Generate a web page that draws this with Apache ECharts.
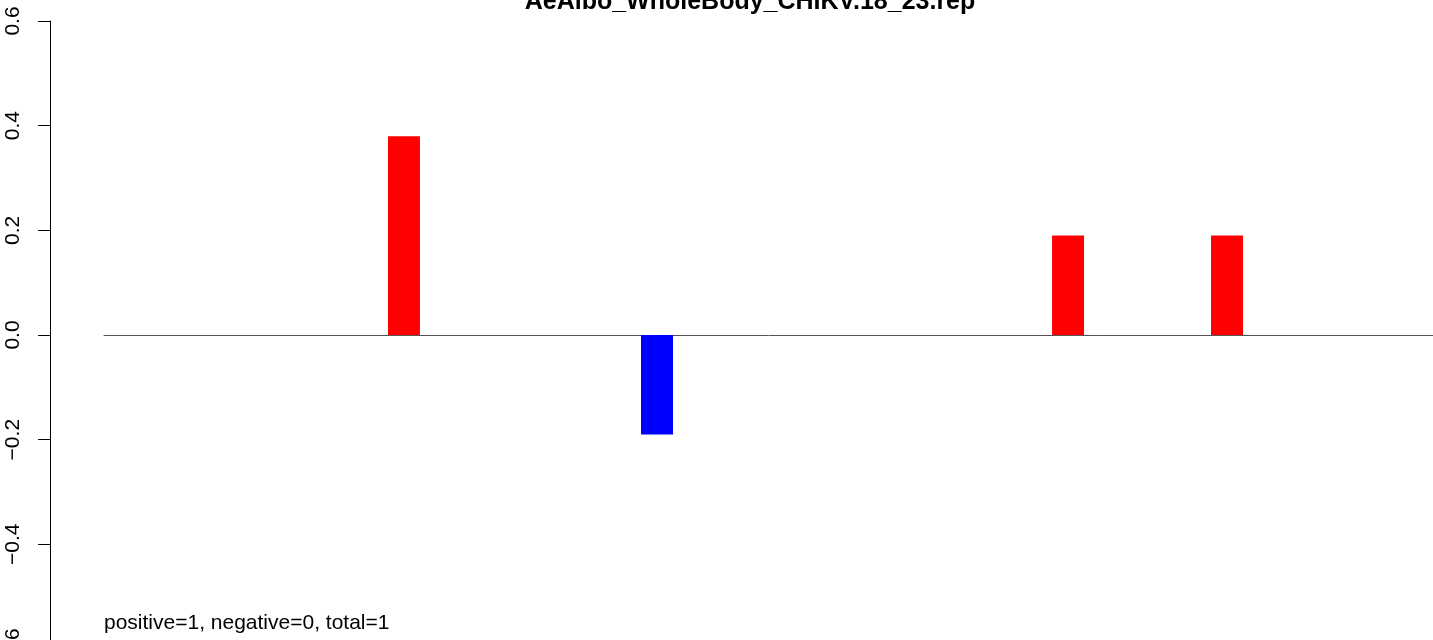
<!DOCTYPE html>
<html>
<head>
<meta charset="utf-8">
<script src="https://cdn.jsdelivr.net/npm/echarts@6/dist/echarts.min.js"></script>
<style>
html,body{margin:0;padding:0;background:#fff;}
#chart{width:1433px;height:640px;}
</style>
</head>
<body>
<div id="chart"></div>
<script>
const titleText = 'AeAlbo_WholeBody_CHIKV.18_23.rep';
const footText = 'positive=1, negative=0, total=1';
const positions = [22.57, 41.61, 72.54, 84.50];
const values = [0.38, -0.19, 0.19, 0.19];
const yTicks = [-0.6, -0.4, -0.2, 0.0, 0.2, 0.4, 0.6];

const FONT = '"Liberation Sans", Arial, Helvetica, sans-serif';
const chart = echarts.init(document.getElementById('chart'), null, {renderer: 'canvas'});

const barData = positions.map((p, i) => ({
  value: [p, values[i]],
  itemStyle: {color: values[i] >= 0 ? '#FF0000' : '#0000FF'}
}));

chart.setOption({
  animation: false,
  backgroundColor: '#ffffff',
  title: [
    {
      text: titleText,
      left: 750, top: -10, padding: 0,
      textAlign: 'center',
      textStyle: {fontFamily: FONT, fontWeight: 'bold', fontSize: 25, lineHeight: 25, color: '#000'}
    },
    {
      text: footText,
      left: 104, top: 613, padding: 0,
      textStyle: {fontFamily: FONT, fontWeight: 'normal', fontSize: 21, lineHeight: 21, color: '#000'}
    }
  ],
  grid: {left: 104, right: 0, top: 21, height: 628, containLabel: false, outerBoundsMode: 'none'},
  xAxis: {
    type: 'value', min: 0, max: 100,
    axisLine: {show: true, onZero: true, lineStyle: {color: '#555555', width: 1}},
    axisTick: {show: false}, axisLabel: {show: false}, splitLine: {show: false}
  },
  yAxis: {
    type: 'value', min: yTicks[0], max: yTicks[yTicks.length - 1], interval: 0.2,
    offset: 54,
    axisLine: {show: true, onZero: false, lineStyle: {color: '#000', width: 1}},
    axisTick: {show: true, length: 12, lineStyle: {color: '#000', width: 1}},
    splitLine: {show: false},
    axisLabel: {
      rotate: 90, margin: 26, fontFamily: FONT, fontSize: 21, color: '#000',
      formatter: v => (v < -1e-9 ? '\u2212' + Math.abs(v).toFixed(1) : Math.abs(v).toFixed(1))
    }
  },
  series: [{
    type: 'bar',
    data: barData,
    barWidth: 32,
    itemStyle: {borderWidth: 0}
  }]
});
</script>
</body>
</html>
